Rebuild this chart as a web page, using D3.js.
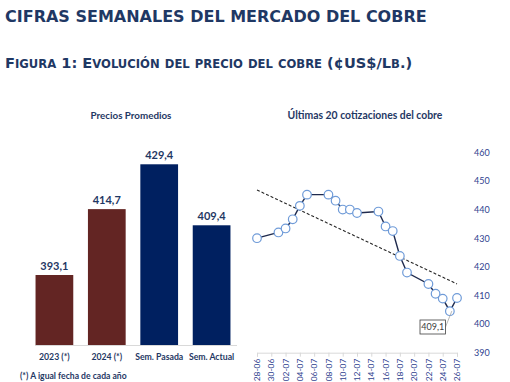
<!DOCTYPE html>
<html>
<head>
<meta charset="utf-8">
<script src="https://cdn.jsdelivr.net/npm/d3@7"></script>
<style>
  body { margin: 0; background: #fff; }
  svg { display: block; }
</style>
</head>
<body>
<div id="chart"></div>
<script>
// Precios promedios (barras)
const categorias = ["2023 (*)", "2024 (*)", "Sem. Pasada", "Sem. Actual"];
const promedios = [393.1, 414.7, 429.4, 409.4];
const coloresBarra = ["#632523", "#632523", "#002060", "#002060"];

// Últimas cotizaciones (día desde 28-06 y precio)
const dias = [0, 3, 4, 5, 6, 7, 10, 11, 12, 13, 14, 17, 18, 19, 20, 21, 24, 25, 26, 27, 28];
const precios = [430.0, 432.0, 433.4, 436.6, 441.3, 445.2, 445.2, 443.1, 440.0, 440.0, 438.8,
                 439.3, 434.1, 432.5, 423.8, 418.0, 414.0, 410.6, 408.9, 404.5, 409.1];
const fechasEje = ["28-06", "30-06", "02-07", "04-07", "06-07", "08-07", "10-07", "12-07",
                   "14-07", "16-07", "18-07", "20-07", "22-07", "24-07", "26-07"];
const ticksY = [390, 400, 410, 420, 430, 440, 450, 460];

const width = 510, height = 382;
const azul = "#1F3864";

const svg = d3.select("#chart").append("svg")
    .attr("width", width)
    .attr("height", height);

// Títulos
svg.append("text")
    .attr("x", 5).attr("y", 21.5)
    .attr("font-family", "DejaVu Sans")
    .attr("font-weight", "bold")
    .attr("font-size", "16px")
    .attr("fill", azul)
    .text("CIFRAS SEMANALES DEL MERCADO DEL COBRE");

// Subtítulo en versalitas: mayúsculas grandes, minúsculas como mayúsculas pequeñas
const subtitulo = "Figura 1: Evolución del precio del cobre (¢US$/Lb.)";
const tramos = [];
for (const ch of subtitulo) {
    const peq = ch !== ch.toUpperCase();
    const ult = tramos[tramos.length - 1];
    if (ult && ult.peq === peq) ult.t += ch; else tramos.push({ t: ch, peq: peq });
}
svg.append("text")
    .attr("x", 5).attr("y", 68)
    .attr("font-family", "DejaVu Sans")
    .attr("font-weight", "bold")
    .attr("fill", azul)
    .selectAll("tspan")
    .data(tramos)
    .enter()
    .append("tspan")
    .attr("font-size", d => d.peq ? "11.6px" : "14.6px")
    .text(d => d.t.toUpperCase());

// ---------- Barras ----------
const x = d3.scaleBand().domain(categorias).range([28.2, 237.8])
    .paddingInner(0.28).paddingOuter(0.14);
const y = d3.scaleLinear().domain([370.15, 440]).range([345, 131.96]);

svg.append("text")
    .attr("x", 131).attr("y", 119)
    .attr("text-anchor", "middle")
    .attr("font-family", "Lato")
    .attr("font-weight", "bold")
    .attr("font-size", "9.8px")
    .attr("fill", azul)
    .text("Precios Promedios");

svg.selectAll("rect.barra")
    .data(promedios)
    .enter()
    .append("rect")
    .attr("class", "barra")
    .attr("x", (d, i) => x(categorias[i]))
    .attr("y", d => y(d))
    .attr("width", x.bandwidth())
    .attr("height", d => y(370.15) - y(d))
    .attr("fill", (d, i) => coloresBarra[i]);

svg.append("line")
    .attr("x1", 35).attr("x2", 237)
    .attr("y1", 345.5).attr("y2", 345.5)
    .attr("stroke", "#d9d9d9");

svg.selectAll("text.valor")
    .data(promedios)
    .enter()
    .append("text")
    .attr("class", "valor")
    .attr("x", (d, i) => x(categorias[i]) + x.bandwidth() / 2)
    .attr("y", d => y(d) - 5)
    .attr("text-anchor", "middle")
    .attr("font-family", "Lato")
    .attr("font-weight", "bold")
    .attr("font-size", "11px")
    .attr("fill", azul)
    .text(d => d.toFixed(1).replace(".", ","));

svg.selectAll("text.cat")
    .data(categorias)
    .enter()
    .append("text")
    .attr("class", "cat")
    .attr("x", d => x(d) + x.bandwidth() / 2)
    .attr("y", 360)
    .attr("text-anchor", "middle")
    .attr("font-family", "Lato")
    .attr("font-weight", "bold")
    .attr("font-size", "8.7px")
    .attr("fill", azul)
    .text(d => d);

svg.append("text")
    .attr("x", 20).attr("y", 379)
    .attr("font-family", "Lato")
    .attr("font-weight", "bold")
    .attr("font-size", "8.6px")
    .attr("fill", azul)
    .text("(*) A igual fecha de cada año");

// ---------- Líneas ----------
const xd = d3.scaleLinear().domain([0, 28]).range([257, 457]);
const yd = d3.scaleLinear().domain([390, 460]).range([352.7, 152.3]);
const puntos = dias.map((d, i) => ({ dia: d, precio: precios[i] }));

svg.append("text")
    .attr("x", 365).attr("y", 119)
    .attr("text-anchor", "middle")
    .attr("font-family", "Lato")
    .attr("font-weight", "bold")
    .attr("font-size", "10.4px")
    .attr("fill", azul)
    .text("Últimas 20 cotizaciones del cobre");

// Eje Y (derecha, sin línea)
svg.append("g")
    .attr("transform", "translate(466,0)")
    .call(d3.axisRight(yd).tickValues(ticksY).tickSize(0).tickPadding(8))
    .call(g => g.select(".domain").remove())
    .selectAll("text")
    .attr("font-family", "Lato")
    .attr("font-size", "9px")
    .attr("fill", "#2F3F8F");

// Eje X de fechas
const ejeX = svg.append("g")
    .attr("transform", `translate(0,${yd(390)})`)
    .call(d3.axisBottom(xd).tickValues(d3.range(0, 29, 2)).tickSize(4)
        .tickFormat((d, i) => fechasEje[i]));
ejeX.select(".domain").attr("stroke", "#d9d9d9");
ejeX.selectAll(".tick line").attr("stroke", "#d9d9d9");
ejeX.selectAll("text")
    .attr("font-family", "Lato")
    .attr("font-size", "8.4px")
    .attr("fill", "#2F3F8F")
    .attr("text-anchor", "end")
    .attr("transform", "rotate(-90)")
    .attr("x", -6)
    .attr("y", 0)
    .attr("dy", "0.32em");

// Línea de tendencia (mínimos cuadrados)
const mx = d3.mean(dias), my = d3.mean(precios);
const pend = d3.sum(dias, (d, i) => (d - mx) * (precios[i] - my)) / d3.sum(dias, d => (d - mx) * (d - mx));
const tend = d => my + pend * (d - mx);
svg.append("line")
    .attr("x1", xd(0)).attr("y1", yd(tend(0)))
    .attr("x2", xd(28)).attr("y2", yd(tend(28)))
    .attr("stroke", "#262626")
    .attr("stroke-width", 1.1)
    .attr("stroke-dasharray", "3,2");

svg.append("path")
    .datum(puntos)
    .attr("fill", "none")
    .attr("stroke", "#1F2A4D")
    .attr("stroke-width", 1.4)
    .attr("d", d3.line().x(d => xd(d.dia)).y(d => yd(d.precio)));

svg.selectAll("circle.pt")
    .data(puntos)
    .enter()
    .append("circle")
    .attr("class", "pt")
    .attr("cx", d => xd(d.dia))
    .attr("cy", d => yd(d.precio))
    .attr("r", 4.3)
    .attr("fill", "#fff")
    .attr("stroke", "#6F9BD8")
    .attr("stroke-width", 1.2);

// Etiqueta del último valor
const ult = puntos[puntos.length - 1];
const bx = 420, by = 320, bw = 25.5, bh = 14;
const px = xd(ult.dia), py = yd(ult.precio);
const fx = bx + bw, fy = by + bh * 0.5;
svg.append("line")
    .attr("x1", fx).attr("y1", fy)
    .attr("x2", fx + (px - fx) * 0.55).attr("y2", fy + (py - fy) * 0.55)
    .attr("stroke", "#a6a6a6")
    .attr("stroke-width", 0.8);
svg.append("rect")
    .attr("x", bx).attr("y", by)
    .attr("width", bw).attr("height", bh)
    .attr("fill", "#fff")
    .attr("stroke", "#404040")
    .attr("stroke-width", 0.8);
svg.append("text")
    .attr("x", bx + bw / 2).attr("y", by + bh / 2 + 3.2)
    .attr("text-anchor", "middle")
    .attr("font-family", "Lato")
    .attr("font-size", "9px")
    .attr("fill", "#404040")
    .text(ult.precio.toFixed(1).replace(".", ","));
</script>
</body>
</html>
